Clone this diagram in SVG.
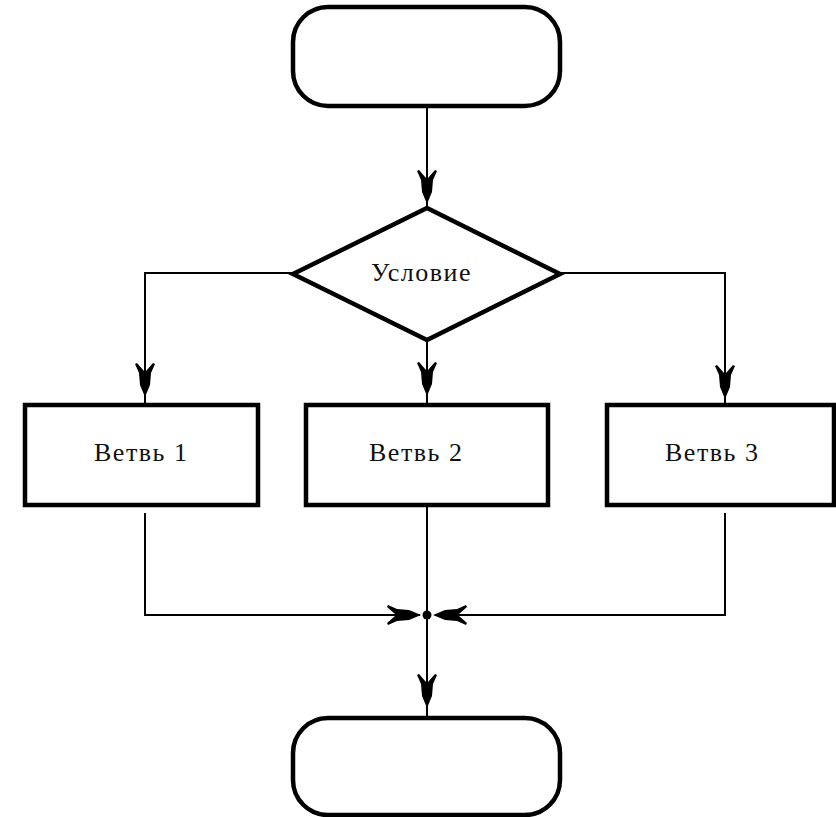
<svg xmlns="http://www.w3.org/2000/svg" xmlns:xlink="http://www.w3.org/1999/xlink" width="836" height="817" viewBox="0 0 836 817">
<style>
.shape{fill:#fff;stroke:#000;stroke-width:4.5}
.conn{fill:none;stroke:#000;stroke-width:2}
.lbl{font-family:"Liberation Serif","Times New Roman",serif;font-size:26px;fill:#111;letter-spacing:1.5px}
</style>
<defs>
<path id="ah" d="M0,0 L-5,-12 L-6,-24 L-10,-33 L-8,-34 L-1,-26 L0,-28 L1,-26 L8,-34 L10,-33 L6,-24 L5,-12 Z" fill="#000"/>
</defs>
<rect width="836" height="817" fill="#fff"/>
<g id="connectors">
<path class="conn" d="M427,106 V208"/>
<path class="conn" d="M293,273 H145 V405"/>
<path class="conn" d="M427,340 V405"/>
<path class="conn" d="M560,273 H725 V405"/>
<path class="conn" d="M145,513 V615 H420"/>
<path class="conn" d="M427,505 V718"/>
<path class="conn" d="M725,513 V615 H435"/>
<circle cx="427" cy="615" r="4.5" fill="#000"/>
<use xlink:href="#ah" transform="translate(427,204)"/>
<use xlink:href="#ah" transform="translate(145,397)"/>
<use xlink:href="#ah" transform="translate(427,396)"/>
<use xlink:href="#ah" transform="translate(725,399)"/>
<use xlink:href="#ah" transform="translate(421,615) rotate(-90)"/>
<use xlink:href="#ah" transform="translate(433,615) rotate(90)"/>
<use xlink:href="#ah" transform="translate(427,708)"/>
</g>
<g id="start">
<rect class="shape" x="293" y="7" width="267" height="99" rx="35" ry="35"/>
</g>
<g id="condition">
<polygon class="shape" points="427,208 560,274 427,340 293,274"/>
<text class="lbl" x="371" y="281">Условие</text>
</g>
<g id="branch1">
<rect class="shape" x="25" y="405" width="233" height="100"/>
<text class="lbl" x="94" y="461">Ветвь 1</text>
</g>
<g id="branch2">
<rect class="shape" x="306" y="405" width="242" height="100"/>
<text class="lbl" x="369" y="461">Ветвь 2</text>
</g>
<g id="branch3">
<rect class="shape" x="607" y="405" width="227" height="100"/>
<text class="lbl" x="665" y="461">Ветвь 3</text>
</g>
<g id="end">
<rect class="shape" x="293" y="718" width="267" height="97" rx="35" ry="35"/>
</g>
</svg>
